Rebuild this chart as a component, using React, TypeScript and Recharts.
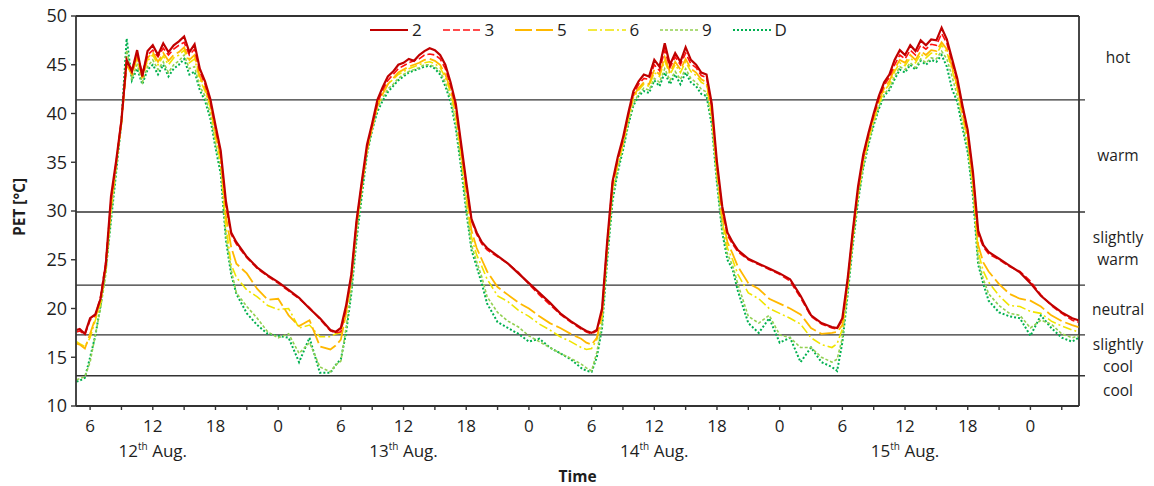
import React from 'react';
import { LineChart, Line, XAxis, YAxis, ReferenceLine, Legend } from 'recharts';

// time in hours since 12 Aug 00:00
const hours = [
  4.7, 5, 5.5,
  6, 6.5, 7, 7.5, 8, 8.5, 9, 9.5, 10, 10.5, 11, 11.5, 12, 12.5, 13, 13.5, 14, 14.5, 15, 15.5, 16, 16.5, 17, 17.5, 18, 18.5, 19, 19.5, 20,
  21, 22, 23, 24, 25, 26, 27, 28, 29, 29.5,
  30, 30.5, 31, 31.5, 32, 32.5, 33, 33.5, 34, 34.5, 35, 35.5, 36, 36.5, 37, 37.5, 38, 38.5, 39, 39.5, 40, 40.5, 41, 41.5, 42, 42.5, 43, 43.5, 44,
  45, 46, 47, 48, 49, 50, 51, 52, 53, 53.5,
  54, 54.5, 55, 55.5, 56, 56.5, 57, 57.5, 58, 58.5, 59, 59.5, 60, 60.5, 61, 61.5, 62, 62.5, 63, 63.5, 64, 64.5, 65, 65.5, 66, 66.5, 67, 67.5, 68,
  69, 70, 71, 72, 73, 74, 75, 76, 77, 77.5,
  78, 78.5, 79, 79.5, 80, 80.5, 81, 81.5, 82, 82.5, 83, 83.5, 84, 84.5, 85, 85.5, 86, 86.5, 87, 87.5, 88, 88.5, 89, 89.5, 90, 90.5, 91, 91.5, 92,
  93, 94, 95, 96, 97, 98, 99, 100, 100.6,
];

const s2 = [
  17.8, 17.9, 17.4,
  19.0, 19.4, 21.0, 24.5, 31.5, 35.2, 39.3, 45.5, 44.3, 46.5, 43.8, 46.4, 47.0, 46.0, 47.2, 46.3, 47.0, 47.4, 47.9, 46.3, 47.1, 44.6, 43.3, 41.5, 38.8, 36.2, 31.0, 27.8, 26.8,
  25.3, 24.2, 23.4, 22.7, 21.9, 21.1, 20.0, 19.0, 17.8, 17.6,
  18.0, 20.3, 23.5, 29.0, 33.0, 36.8, 39.0, 41.4, 42.7, 43.8, 44.3, 45.0, 45.2, 45.6, 45.4, 46.0, 46.4, 46.7, 46.5, 46.0, 45.0, 43.2, 41.0, 37.0, 33.0, 29.2, 27.8, 26.8, 26.2,
  25.4, 24.6, 23.6, 22.6, 21.6, 20.6, 19.5, 18.7, 18.0, 17.7,
  17.5, 17.8, 20.0, 27.0, 33.0, 35.5, 37.5, 40.0, 42.3, 43.3, 44.0, 43.8, 45.5, 44.8, 47.2, 45.0, 46.2, 45.3, 46.8, 45.5, 45.0, 44.2, 44.0, 41.0, 35.0, 30.5, 27.8, 26.8, 26.0,
  25.1, 24.6, 24.1, 23.6, 23.0, 21.3, 19.3, 18.5, 18.1, 18.0,
  19.0, 23.0, 28.0, 32.5, 35.8, 38.0, 40.0, 41.8, 43.2, 44.0, 45.5, 46.5, 46.0, 47.0, 46.4, 47.5, 47.0, 47.6, 47.5, 48.8, 47.6, 45.6, 43.6, 40.8, 38.3, 34.0, 28.0, 26.5, 25.8,
  25.1, 24.4, 23.7, 22.6, 21.3, 20.4, 19.6, 19.0, 18.8,
];

const s3 = [
  17.6, 17.7, 17.3,
  18.8, 19.3, 21.2, 24.8, 31.0, 35.0, 39.5, 45.3, 44.6, 46.0, 44.2, 46.0, 46.5, 45.8, 46.7, 46.0, 46.6, 47.0, 47.3, 46.0, 46.6, 44.3, 43.0, 41.2, 38.5, 35.8, 30.6, 27.6, 26.6,
  25.2, 24.1, 23.3, 22.6, 21.8, 21.0, 20.1, 18.9, 17.7, 17.5,
  17.6, 20.0, 23.3, 28.8, 32.8, 36.5, 38.8, 41.0, 42.4, 43.4, 44.0, 44.6, 44.9, 45.2, 45.4, 45.6, 46.0, 46.1, 46.0, 45.6, 44.6, 42.9, 40.7, 36.7, 32.7, 29.0, 27.6, 26.6, 26.0,
  25.3, 24.6, 23.7, 22.5, 21.4, 20.4, 19.4, 18.6, 17.9, 17.6,
  17.4, 17.7, 19.8, 26.8, 32.8, 35.3, 37.3, 39.8, 42.0, 43.0, 43.6, 43.5, 45.0, 44.4, 46.5, 44.7, 45.8, 45.0, 46.2, 45.1, 44.7, 43.9, 43.7, 40.6, 34.7, 30.2, 27.5, 26.6, 25.8,
  25.0, 24.5, 24.0, 23.5, 22.8, 21.1, 19.2, 18.4, 18.0, 17.9,
  18.8, 22.8, 27.8, 32.2, 35.5, 37.8, 39.8, 41.5, 42.9, 43.7, 45.0, 46.0, 45.6, 46.5, 46.0, 47.0, 46.6, 47.1, 47.0, 48.2, 47.2, 45.3, 43.3, 40.5, 38.0, 33.7, 27.6, 26.3, 25.6,
  25.0, 24.3, 23.8, 22.8, 21.4, 20.3, 19.5, 18.8, 18.6,
];

const s5 = [
  16.4, 16.3, 15.9,
  17.4, 19.0, 20.8, 24.3, 30.5, 35.0, 39.0, 45.0, 44.0, 45.8, 43.6, 45.7, 46.3, 45.3, 46.2, 45.4, 46.0, 46.3, 46.8, 45.5, 46.0, 43.8, 42.6, 41.0, 38.0, 35.5, 29.5, 26.3, 24.6,
  23.6, 22.0, 20.9, 21.0, 19.3, 18.2, 18.8, 16.1, 15.8, 16.2,
  16.8, 19.5, 23.0, 28.5, 32.5, 36.2, 38.5, 40.8, 42.0, 43.0, 43.6, 44.2, 44.5, 44.8, 45.0, 45.2, 45.5, 45.6, 45.4, 45.0, 44.0, 42.5, 40.2, 36.2, 32.0, 28.0, 26.2, 25.0, 23.8,
  22.2, 21.4, 20.6, 20.0, 19.2, 18.5, 18.0, 17.4, 16.9, 16.5,
  16.3, 17.0, 19.4, 26.5, 32.5, 35.0, 37.0, 39.6, 41.8, 42.6, 43.2, 43.0, 44.5, 44.0, 45.8, 44.2, 45.3, 44.5, 45.6, 44.6, 44.2, 43.5, 43.2, 40.2, 34.2, 29.5, 26.8, 25.6, 24.3,
  22.6, 22.0, 21.0, 20.5, 20.0, 19.4, 18.0, 17.4, 17.5, 17.6,
  18.3, 22.5, 27.5, 32.0, 35.3, 37.6, 39.6, 41.3, 42.6, 43.3, 44.6, 45.5, 45.2, 46.0, 45.5, 46.4, 46.0, 46.5, 46.4, 47.3, 46.6, 44.8, 42.8, 40.0, 37.5, 33.0, 26.5, 24.7, 23.8,
  22.5, 21.5, 21.0, 20.8, 20.2, 19.3, 18.7, 18.3, 18.1,
];

const s6 = [
  16.6, 16.4, 16.1,
  17.0, 18.8, 20.5, 24.0, 30.3, 34.8, 39.2, 45.0, 44.2, 45.5, 43.9, 45.4, 46.0, 45.0, 45.9, 45.0, 45.7, 46.0, 46.5, 45.2, 45.6, 43.5, 42.3, 40.7, 37.6, 35.0, 28.5, 24.5, 23.2,
  21.9, 21.2, 20.3, 19.9, 20.0, 18.0, 18.3, 17.1, 17.1, 17.4,
  17.5, 19.8, 23.2, 28.7, 32.8, 36.5, 38.8, 41.0, 42.2, 43.0, 43.5, 44.0, 44.3, 44.6, 44.8, 45.0, 45.2, 45.3, 45.1, 44.7, 43.7, 42.2, 39.8, 35.8, 31.5, 27.3, 25.5, 24.3, 23.0,
  21.3, 20.7, 19.8, 19.2, 18.4, 17.8, 17.1, 16.6, 16.0, 15.8,
  15.9, 16.8, 19.2, 26.3, 32.3, 34.8, 36.8, 39.4, 41.6, 42.4, 43.0, 42.8, 44.2, 43.8, 45.4, 44.0, 45.0, 44.2, 45.3, 44.3, 43.9, 43.2, 42.9, 39.8, 33.8, 29.0, 26.2, 25.0, 23.5,
  21.6, 21.0, 20.0, 19.5, 19.0, 18.4, 17.0, 16.3, 16.0, 16.4,
  17.9, 22.2, 27.2, 31.7, 35.0, 37.3, 39.3, 41.0, 42.3, 43.0, 44.3, 45.2, 44.9, 45.7, 45.2, 46.1, 45.7, 46.2, 46.1, 47.0, 46.3, 44.5, 42.5, 39.7, 37.2, 32.6, 25.8, 23.8, 22.7,
  21.3, 20.3, 20.2, 19.7, 19.5, 18.7, 18.2, 17.8, 17.6,
];

const s9 = [
  12.7, 12.8, 13.0,
  14.5, 17.3, 20.0, 23.5, 29.5, 34.3, 39.0, 46.5, 43.6, 45.0, 43.2, 44.8, 45.5, 44.5, 45.3, 44.2, 45.0, 45.4, 46.0, 44.6, 44.8, 42.8, 41.8, 40.0, 37.0, 34.5, 27.5, 24.0, 21.6,
  20.2, 19.0, 17.6, 17.0, 17.4, 15.4, 16.5, 14.0, 13.5, 14.2,
  14.6, 18.0, 22.0, 27.5, 32.0, 36.0, 38.5, 40.5, 41.6, 42.5, 43.0, 43.6, 44.0, 44.3, 44.5, 44.7, 45.0, 45.0, 44.8, 44.3, 43.2, 41.6, 39.0, 35.0, 30.5, 26.5, 24.8, 23.2, 21.2,
  19.6, 18.7, 18.1, 17.2, 16.6, 16.0, 15.4, 14.9, 14.3, 13.9,
  13.6, 15.5, 18.5, 25.5, 31.5, 34.3, 36.5, 39.0, 41.0, 42.0, 42.6, 42.4, 43.6, 43.2, 44.6, 43.4, 44.3, 43.5, 44.6, 43.6, 43.2, 42.5, 42.2, 39.2, 33.2, 28.3, 25.6, 24.4, 22.5,
  19.2, 18.5, 19.3, 17.3, 17.0, 16.0, 16.0, 15.0, 14.5, 14.8,
  17.0, 21.8, 26.8, 31.3, 34.6, 37.0, 39.0, 40.7, 42.0, 42.6, 43.8, 44.8, 44.5, 45.2, 44.7, 45.6, 45.2, 45.7, 45.6, 46.4, 45.6, 43.8, 41.8, 39.0, 36.5, 32.0, 25.0, 23.0, 21.5,
  20.3, 19.5, 19.3, 18.0, 18.8, 18.4, 17.4, 17.0, 17.2,
];

const sD = [
  12.5, 12.6, 12.9,
  15.0, 17.2, 20.3, 24.0, 29.0, 34.0, 39.2, 47.7, 43.4, 44.6, 43.0, 44.5, 45.0, 44.0, 45.0, 43.8, 44.6, 45.0, 45.6, 44.0, 44.3, 42.4, 41.3, 39.5, 36.5, 33.8, 27.0, 23.5, 21.5,
  19.5, 18.3, 17.4, 17.2, 17.0, 14.5, 17.0, 13.4, 13.4, 14.2,
  14.8, 17.5, 21.5, 27.0, 31.5, 35.8, 38.3, 40.2, 41.3, 42.2, 42.8, 43.4, 43.8, 44.2, 44.4, 44.6, 44.8, 44.9, 44.6, 44.0, 42.8, 41.2, 38.5, 34.5, 30.0, 26.0, 24.3, 22.5, 20.5,
  18.6, 18.0, 17.4, 16.6, 16.9, 16.0, 15.4, 14.8, 13.9, 13.6,
  13.5, 15.0, 18.0, 25.0, 31.0, 34.0, 36.2, 38.8, 40.8, 41.8, 42.3, 42.1, 43.4, 42.8, 44.2, 43.0, 44.0, 43.0, 44.2, 43.2, 42.8, 42.0, 41.8, 38.8, 32.8, 27.8, 25.0, 24.0, 21.8,
  18.5, 17.5, 19.0, 16.5, 17.0, 14.5, 16.0, 14.5, 14.0, 13.6,
  16.5, 21.3, 26.5, 31.0, 34.4, 36.8, 38.8, 40.5, 41.8, 42.4, 43.5, 44.5, 44.2, 45.0, 44.5, 45.4, 45.0, 45.5, 45.3, 46.0, 44.8, 42.5, 41.2, 38.5, 36.0, 31.5, 24.5, 22.5, 20.8,
  19.6, 19.2, 19.0, 17.2, 19.3, 18.0, 17.0, 16.6, 17.0,
];

const yTicks = [10, 15, 20, 25, 30, 35, 40, 45, 50];
const xTicks = [6, 9, 12, 15, 18, 21, 24, 27, 30, 33, 36, 39, 42, 45, 48, 51, 54, 57, 60, 63, 66, 69, 72, 75, 78, 81, 84, 87, 90, 93, 96, 99];
const X_MIN = 4.65;
const X_MAX = 100.65;

// PET class limits and the names of the bands between them
const thresholds = [41.4, 29.9, 22.4, 17.3, 13.1];
const bandNames = [['hot'], ['warm'], ['slightly', 'warm'], ['neutral'], ['slightly', 'cool'], ['cool']];

const series = [
  { key: 's2', name: '2', color: '#C00000', width: 2.2, dash: undefined },
  { key: 's3', name: '3', color: '#FF1010', width: 1.6, dash: '7 3' },
  { key: 's5', name: '5', color: '#FFB800', width: 1.8, dash: '17 4' },
  { key: 's6', name: '6', color: '#F0E400', width: 1.6, dash: '9 3 2 3' },
  { key: 's9', name: '9', color: '#92D050', width: 1.6, dash: '3 2' },
  { key: 'sD', name: 'D', color: '#00B050', width: 2, dash: '2 2' },
];

const data = hours.map((h, i) => ({
  h,
  s2: s2[i],
  s3: s3[i],
  s5: s5[i],
  s6: s6[i],
  s9: s9[i],
  sD: sD[i],
}));

const TEXT = '#1e1e1e';
const FRAME = '#333';

const bounds = [50, ...thresholds, 10];

const XTick = (props: any) => {
  const { x, y, payload } = props;
  const h = payload.value as number;
  const hod = h % 24;
  if (hod % 6 !== 0) return null;
  return (
    <g>
      <text x={x} y={y + 22} textAnchor="middle" fontSize={17} fill={TEXT}>
        {hod}
      </text>
      {hod === 12 && (
        <text x={x} y={y + 47} textAnchor="middle" fontSize={17} fill={TEXT}>
          {12 + Math.floor(h / 24)}
          <tspan fontSize={10} dy={-7}>th</tspan>
          <tspan dy={7}> Aug.</tspan>
        </text>
      )}
    </g>
  );
};

const LegendContent = () => (
  <div style={{ display: 'flex', alignItems: 'center', fontSize: 17, color: TEXT }}>
    {series.map((s) => (
      <div key={s.key} style={{ display: 'flex', alignItems: 'center', width: 72.5 }}>
        <svg width={38} height={10}>
          <line x1={0} y1={5} x2={38} y2={5} stroke={s.color} strokeWidth={s.width} strokeDasharray={s.dash} />
        </svg>
        <span style={{ marginLeft: 4, lineHeight: '20px' }}>{s.name}</span>
      </div>
    ))}
  </div>
);

// band name drawn to the right of the frame, one <text> per line
const bandShape = (lines: string[]) => (p: any) => {
  const x = p.x2 + 39;
  const lh = 21.5;
  const y0 = p.y1 + 5.5 - ((lines.length - 1) * lh) / 2;
  return (
    <g>
      {lines.map((t, i) => (
        <text key={i} x={x} y={y0 + i * lh} textAnchor="middle" fontSize={15.5} fill={TEXT}>
          {t}
        </text>
      ))}
    </g>
  );
};

const limitShape = (p: any) => (
  <line x1={p.x1} y1={p.y1} x2={p.x2 + 6} y2={p.y2} stroke={FRAME} strokeWidth={1.4} />
);

export default function App() {
  return (
    <div
      style={{
        position: 'absolute',
        left: 0,
        top: 0,
        width: 1154,
        height: 486,
        background: '#fff',
        fontFamily: '"Open Sans", sans-serif',
      }}
    >
      <LineChart width={1154} height={486} data={data} margin={{ top: 16, right: 75, bottom: 0, left: 0 }}>
        <XAxis
          dataKey="h"
          type="number"
          domain={[X_MIN, X_MAX]}
          ticks={xTicks}
          interval={0}
          height={80}
          tickSize={4}
          tickMargin={0}
          tick={<XTick />}
          axisLine={{ stroke: FRAME, strokeWidth: 1.8 }}
          tickLine={{ stroke: FRAME, strokeWidth: 1.4 }}
          allowDataOverflow
          label={{ value: 'Time', position: 'insideBottom', offset: 4, fontWeight: 700, fontSize: 15.5, fill: TEXT }}
        />
        <YAxis
          type="number"
          domain={[10, 50]}
          ticks={yTicks}
          interval={0}
          width={76}
          tickSize={5}
          tickMargin={4}
          tick={{ fill: TEXT, fontSize: 18 }}
          axisLine={{ stroke: FRAME, strokeWidth: 1.8 }}
          tickLine={{ stroke: FRAME, strokeWidth: 1.4 }}
          allowDataOverflow
          label={(props: any) => {
            const vb = props.viewBox;
            const cx = vb.x + 19;
            const cy = vb.y + vb.height / 2 - 4;
            return (
              <text
                x={cx}
                y={cy}
                transform={`rotate(-90, ${cx}, ${cy})`}
                textAnchor="middle"
                dominantBaseline="central"
                fontSize={15.5}
                fontWeight={700}
                fill={TEXT}
              >
                PET [°C]
              </text>
            );
          }}
        />

        <ReferenceLine y={50} stroke={FRAME} strokeWidth={1.8} />
        <ReferenceLine x={X_MAX} stroke={FRAME} strokeWidth={1.8} />
        {thresholds.map((t) => (
          <ReferenceLine key={`t-${t}`} y={t} shape={limitShape} />
        ))}
        {bandNames.map((lines, i) => (
          <ReferenceLine
            key={`b-${i}`}
            y={(bounds[i] + bounds[i + 1]) / 2}
            shape={bandShape(lines)}
          />
        ))}

        {[...series].reverse().map((s) => (
          <Line
            key={s.key}
            type="linear"
            dataKey={s.key}
            name={s.name}
            stroke={s.color}
            strokeWidth={s.width}
            strokeDasharray={s.dash}
            dot={false}
            activeDot={false}
            isAnimationActive={false}
          />
        ))}

        <Legend
          layout="horizontal"
          verticalAlign="middle"
          align="center"
          content={<LegendContent />}
          wrapperStyle={{ top: 20, left: 370, width: 'auto', height: 'auto' }}
        />
      </LineChart>
    </div>
  );
}
